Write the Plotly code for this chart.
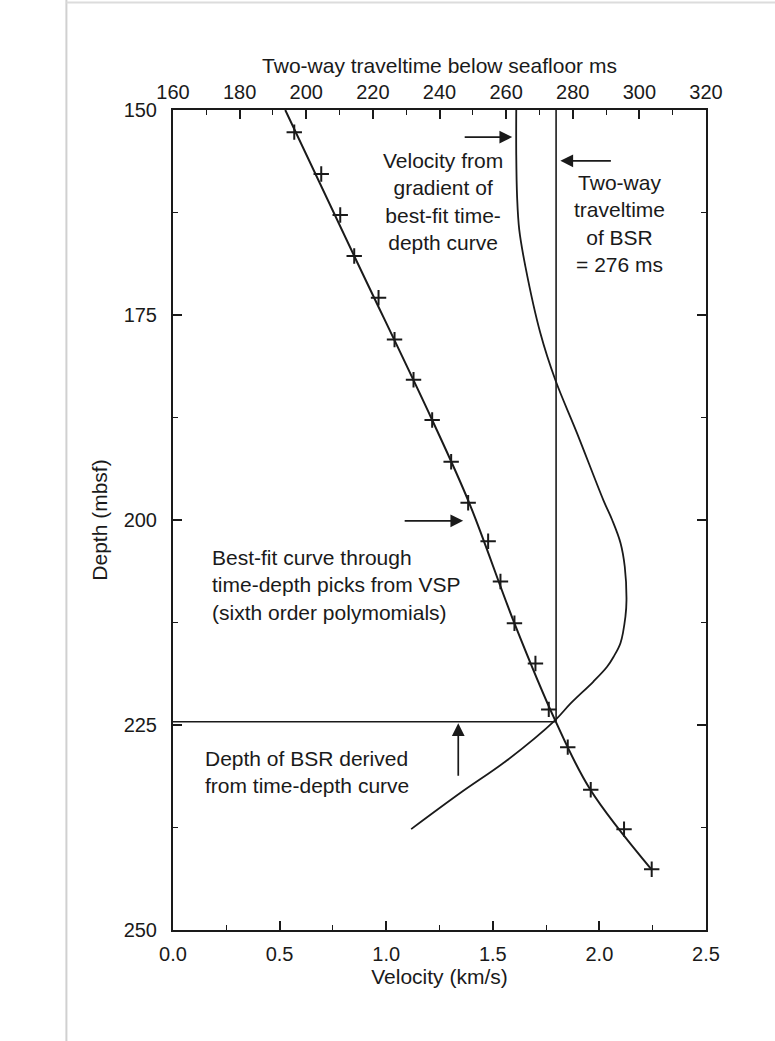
import plotly.graph_objects as go

# ---------------- data ----------------
# time-depth picks from VSP (two-way traveltime below seafloor, ms ; depth, mbsf)
pick_time = [196.4, 204.5, 210.2, 214.4, 221.7, 226.5, 232.2, 237.8, 243.5, 248.6,
             254.6, 258.3, 262.5, 268.8, 272.8, 278.5, 285.4, 295.4, 303.7]
pick_depth = [152.7, 157.8, 162.8, 167.8, 172.9, 178.0, 182.9, 187.8, 192.9, 197.9,
              202.6, 207.5, 212.6, 217.5, 223.1, 227.7, 232.9, 237.7, 242.6]

# best-fit time-depth curve
fit_time = [193.7, 214.4, 237.8, 248.9, 262.5, 274.8, 285.3, 303.8]
fit_depth = [150.0, 167.8, 187.8, 197.9, 212.6, 224.5, 232.9, 242.7]

# velocity from gradient of best-fit curve (km/s ; mbsf)
vel_value = [1.610, 1.610, 1.614, 1.624, 1.653, 1.723, 1.793, 1.895, 2.019, 2.060,
             2.099, 2.119, 2.127, 2.122, 2.099, 2.066, 2.036, 1.972, 1.864, 1.793,
             1.567, 1.347, 1.117]
vel_depth = [150.0, 155.5, 160.6, 164.6, 169.1, 177.2, 182.9, 189.4, 197.6, 200.0,
             202.8, 205.7, 209.8, 211.8, 215.0, 216.7, 217.9, 219.7, 222.4, 224.4,
             229.3, 233.3, 237.7]

bsr_time = 275.0        # ms (vertical line)
bsr_depth = 224.6       # mbsf (horizontal line)
bsr_velocity_x = 1.793  # where the horizontal line meets the curves (velocity axis)

vel_ticks = [0.0, 0.5, 1.0, 1.5, 2.0, 2.5]
time_ticks = [160, 180, 200, 220, 240, 260, 280, 300, 320]
depth_ticks = [150, 175, 200, 225, 250]

FONT = "Liberation Sans, Arial, Helvetica, sans-serif"
INK = "#1a1a1a"

fig = go.Figure()

# best-fit time-depth curve (top axis)
fig.add_trace(go.Scatter(x=fit_time, y=fit_depth, xaxis="x2", yaxis="y",
                         mode="lines", line=dict(color=INK, width=2, shape="spline", smoothing=1.0),
                         hoverinfo="skip", showlegend=False))
fig.add_trace(go.Scatter(x=pick_time, y=pick_depth, xaxis="x2", yaxis="y",
                         mode="markers",
                         marker=dict(symbol="cross-thin", size=11, line=dict(color=INK, width=2)),
                         showlegend=False))
# velocity curve (bottom axis)
fig.add_trace(go.Scatter(x=vel_value, y=vel_depth, xaxis="x", yaxis="y",
                         mode="lines", line=dict(color=INK, width=1.8, shape="spline", smoothing=1.0),
                         showlegend=False))
# BSR traveltime line
fig.add_trace(go.Scatter(x=[bsr_time, bsr_time], y=[150, bsr_depth], xaxis="x2", yaxis="y",
                         mode="lines", line=dict(color=INK, width=1.6), showlegend=False))
# BSR depth line
fig.add_trace(go.Scatter(x=[0, bsr_velocity_x], y=[bsr_depth, bsr_depth], xaxis="x", yaxis="y",
                         mode="lines", line=dict(color=INK, width=1.6), showlegend=False))

axis_common = dict(showline=True, linecolor=INK, linewidth=2, ticks="inside",
                   tickcolor=INK, showgrid=False, zeroline=False,
                   tickfont=dict(family=FONT, size=20, color=INK))
title_font = dict(family=FONT, size=21, color=INK)

fig.update_layout(
    width=775, height=1041,
    margin=dict(l=173, r=69, t=110, b=111),
    paper_bgcolor="white", plot_bgcolor="white",
    font=dict(family=FONT, color=INK),
    xaxis=dict(**axis_common, range=[0, 2.5], tickvals=vel_ticks, tickformat=".1f",
               ticklen=9, tickwidth=1.6,
               minor=dict(dtick=0.25, ticks="inside", ticklen=5, tickwidth=1.4, tickcolor=INK, showgrid=False),
               ticklabelstandoff=5,
               title=dict(text="Velocity (km/s)", font=title_font, standoff=2)),
    xaxis2=dict(**axis_common, overlaying="x", side="top", range=[160, 320], tickvals=time_ticks,
                ticklen=9, tickwidth=1.6,
                minor=dict(dtick=10, ticks="inside", ticklen=5, tickwidth=1.4, tickcolor=INK, showgrid=False),
                ticklabelstandoff=1,
                title=dict(text="Two-way traveltime below seafloor ms", font=title_font, standoff=2)),
    yaxis=dict(**axis_common, range=[250, 150], tickvals=depth_ticks, mirror="ticks",
               ticklen=9, tickwidth=1.6,
               minor=dict(dtick=12.5, ticks="inside", ticklen=5, tickwidth=1.4, tickcolor=INK, showgrid=False),
               ticklabelstandoff=10,
               title=dict(text="Depth (mbsf)", font=title_font, standoff=10)),
)

ann_font = dict(family=FONT, size=21, color=INK)
arrow_style = dict(text="", showarrow=True, arrowhead=2, arrowsize=1.5, arrowwidth=1.7,
                   arrowcolor=INK, xref="x", yref="y")
annotations = [
    dict(x=1.268, y=161.2, xref="x", yref="y", showarrow=False, align="center",
         text="Velocity from<br>gradient of<br>best-fit time-<br>depth curve", font=ann_font),
    dict(x=2.094, y=163.8, xref="x", yref="y", showarrow=False, align="center",
         text="Two-way<br>traveltime<br>of BSR<br>= 276 ms", font=ann_font),
    dict(x=0.174, y=207.9, xref="x", yref="y", showarrow=False, align="left", xanchor="left",
         text="Best-fit curve through<br>time-depth picks from VSP<br>(sixth order polymomials)", font=ann_font),
    dict(x=0.141, y=230.7, xref="x", yref="y", showarrow=False, align="left", xanchor="left",
         text="Depth of BSR derived<br>from time-depth curve", font=ann_font),
    # arrows
    dict(x=1.591, y=153.3, ax=-49, ay=0, **arrow_style),
    dict(x=1.817, y=156.2, ax=52, ay=0, **arrow_style),
    dict(x=1.361, y=200.1, ax=-60, ay=0, **arrow_style),
    dict(x=1.338, y=224.8, ax=0, ay=54, **arrow_style),
]
fig.update_layout(annotations=annotations)

# faint scan edges of the original page
fig.add_shape(type="line", xref="paper", yref="paper", x0=-0.2, x1=-0.2, y0=-0.14, y1=1.14,
              line=dict(color="#d0d0d0", width=2))
fig.add_shape(type="line", xref="paper", yref="paper", x0=-0.2, x1=1.13, y0=1.131, y1=1.131,
              line=dict(color="#dcdcdc", width=2))

fig.write_html("out.html")
